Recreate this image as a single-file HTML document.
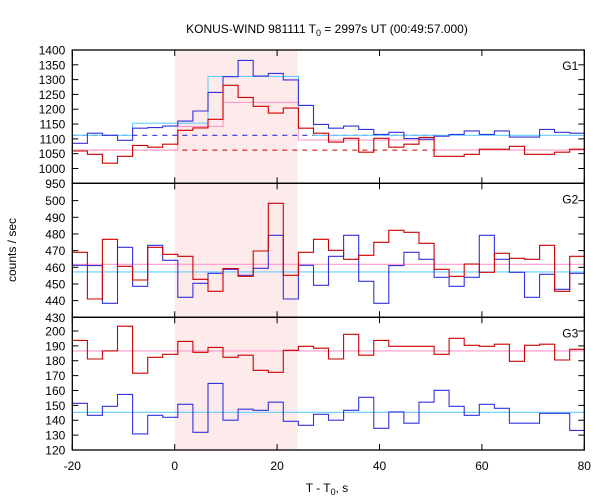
<!DOCTYPE html>
<html><head><meta charset="utf-8"><style>
body{margin:0;background:#fff;}
svg{display:block;font-family:"Liberation Sans","DejaVu Sans",sans-serif;}
</style></head><body>
<svg id="chart" width="600" height="500" viewBox="0 0 600 500" xmlns="http://www.w3.org/2000/svg"></svg>
<script>
const binStart = -20, binWidth = 2.944;
const xTicks = [-20, 0, 20, 40, 60, 80];
const shadeRange = [0, 24];
const g1Blue = [1085,1119,1112,1095,1136,1138,1143,1160,1194,1257,1310,1365,1312,1321,1299,1213,1149,1136,1143,1132,1115,1122,1101,1099,1109,1115,1127,1115,1127,1106,1106,1132,1122,1119];
const g1Red = [1059,1048,1018,1041,1078,1072,1082,1129,1137,1166,1281,1240,1210,1187,1204,1136,1119,1089,1102,1055,1102,1072,1082,1105,1041,1041,1048,1065,1065,1075,1048,1048,1055,1065];
const g1BlueModel = [1112,1112,1112,1112,1153,1153,1153,1153,1153,1311,1311,1311,1311,1311,1311,1213,1112,1112,1112,1112,1112,1112,1112,1112,1112,1112,1112,1112,1112,1112,1112,1112,1112,1112];
const g1RedModel = [1062,1062,1062,1062,1062,1062,1062,1142,1142,1142,1223,1223,1223,1223,1223,1096,1096,1096,1096,1096,1096,1096,1096,1096,1062,1062,1062,1062,1062,1062,1062,1062,1062,1062];
const g1BlueBg = 1112, g1RedBg = 1062, g1BgEnd = 50.9;
const g2Red = [469,441,476.8,460.6,452.4,472,467.8,466.6,452.8,445.6,459.2,454.6,469.8,498.4,455.2,469,476.8,470.2,464.8,467.2,475,482.2,481,474.4,458.8,454.6,462,457,468.4,465.4,464.8,473.2,445.6,466.6];
const g2Blue = [461.2,461,438.4,472,448.6,473.2,464.2,442,450.4,456.4,458.8,455.2,459.4,479.2,441,461.2,449.2,466.6,479.2,451.6,438.4,461,469,464.8,454,448.6,454,479.2,464.8,457,442,455.8,446.8,456.4];
const g2RedBg = 461.8, g2BlueBg = 457.2;
const g3Red = [193.7,181.2,186.6,203.2,171.6,182.3,184.3,193,185.7,189,182.3,183.7,173.6,172.2,187,189.7,188.4,181.2,197.8,183.7,193.7,189.7,189.7,189.7,184.3,195.1,190.4,189.7,191.1,179.6,190.4,191.1,180.5,187.7];
const g3Blue = [151.4,143.3,149.4,157.4,130.8,143.3,142,150.7,131.9,164.8,140,147.4,146.7,152.1,139.3,136.6,144,140,146.7,155.4,134.6,145.6,138,152.1,160.1,149.4,143.3,150.7,148,138,138,144.7,144.7,133.2];
const g3RedBg = 186.6, g3BlueBg = 145.3;
const g1Ticks = [950,1000,1050,1100,1150,1200,1250,1300,1350,1400];
const g2Ticks = [430,440,450,460,470,480,490,500];
const g3Ticks = [120,130,140,150,160,170,180,190,200];

const NS = "http://www.w3.org/2000/svg";
const svg = document.getElementById('chart');
const L = 72.3, R = 584.3;
const X = t => L + (t + 20) * (R - L) / 100;
function el(tag, attrs, parent){const e=document.createElementNS(NS,tag);for(const k in attrs)e.setAttribute(k,attrs[k]);(parent||svg).appendChild(e);return e;}
function txt(s, attrs){const e=el('text',attrs);e.textContent=s;return e;}

const panels = [
 {name:'g1', top:50, bottom:183.3, vTop:1400, vBot:950, ticks:g1Ticks, label:'G1',
  series:[{d:g1BlueModel,c:'#66ccff',n:'g1-blue-model'},{d:g1RedModel,c:'#ff99cc',n:'g1-red-model'},{d:g1Blue,c:'#3333dd',n:'g1-blue-counts'},{d:g1Red,c:'#cc0000',n:'g1-red-counts'}],
  bg:[{v:g1BlueBg,c:'#3333dd',n:'g1-blue-background'},{v:g1RedBg,c:'#cc0000',n:'g1-red-background'}]},
 {name:'g2', top:183.3, bottom:317.3, vTop:510.4, vBot:430, ticks:g2Ticks, label:'G2',
  series:[{d:g2Blue,c:'#3333dd',n:'g2-blue-counts'},{d:g2Red,c:'#cc0000',n:'g2-red-counts'}],
  lines:[{v:g2RedBg,c:'#ff99cc',n:'g2-red-background'},{v:g2BlueBg,c:'#66ccff',n:'g2-blue-background'}]},
 {name:'g3', top:317.3, bottom:450, vTop:209.2, vBot:120, ticks:g3Ticks, label:'G3',
  series:[{d:g3Red,c:'#cc0000',n:'g3-red-counts'},{d:g3Blue,c:'#3333dd',n:'g3-blue-counts'}],
  lines:[{v:g3RedBg,c:'#ff99cc',n:'g3-red-background'},{v:g3BlueBg,c:'#66ccff',n:'g3-blue-background'}]}
];

const sh = el('rect',{x:X(shadeRange[0]),y:50,width:X(shadeRange[1])-X(shadeRange[0]),height:400,fill:'#fdeaea'});



panels.forEach(p=>{
  const Y = v => p.bottom - (v - p.vBot) * (p.bottom - p.top) / (p.vTop - p.vBot);
  const clip = el('clipPath',{id:'clip-'+p.name});
  el('rect',{x:L,y:p.top,width:R-L,height:p.bottom-p.top},clip);
  const g = el('g',{'clip-path':'url(#clip-'+p.name+')'});
  
  
  function step(d){let s='';d.forEach((v,i)=>{const x0=X(binStart+i*binWidth),x1=X(binStart+(i+1)*binWidth),y=Y(v);s+=(i===0?'M':'L')+x0.toFixed(1)+','+y.toFixed(1)+'L'+x1.toFixed(1)+','+y.toFixed(1);});return s;}
  (p.lines||[]).forEach(l=>{
    const e=el('line',{x1:L,x2:R,y1:Y(l.v),y2:Y(l.v),stroke:l.c,'stroke-width':1.1},g);
    
    
  });
  (p.bg||[]).forEach(l=>{
    const e=el('line',{x1:L,x2:X(g1BgEnd),y1:Y(l.v),y2:Y(l.v),stroke:l.c,'stroke-width':1.1,'stroke-dasharray':'5,5'},g);
    
    
  });
  p.series.forEach(s=>{
    const e=el('path',{d:step(s.d),fill:'none',stroke:s.c,'stroke-width':1.1},g);
    
    
  });
  const fr=el('rect',{x:L,y:p.top,width:R-L,height:p.bottom-p.top,fill:'none',stroke:'#000','stroke-width':1.3});
  
  
  p.ticks.forEach(v=>{
    const y=Y(v);
    el('line',{x1:L,x2:L+6,y1:y,y2:y,stroke:'#000','stroke-width':1});
    el('line',{x1:R-6,x2:R,y1:y,y2:y,stroke:'#000','stroke-width':1});
    const t=txt(String(v),{x:L-7,y:y+4.5,'text-anchor':'end','font-size':12,fill:'#000'});
    
    
  });
  xTicks.forEach(tv=>{
    const x=X(tv);
    el('line',{x1:x,x2:x,y1:p.top,y2:p.top+6,stroke:'#000','stroke-width':1});
    el('line',{x1:x,x2:x,y1:p.bottom-6,y2:p.bottom,stroke:'#000','stroke-width':1});
  });
  const lb=txt(p.label,{x:R-6,y:p.top+20,'text-anchor':'end','font-size':12,fill:'#000'});
  
  
});

xTicks.forEach(tv=>{
  const t=txt(String(tv),{x:X(tv),y:470,'text-anchor':'middle','font-size':12,fill:'#000'});
  
  
});
</script>
<svg style="position:absolute;left:0;top:0" width="600" height="500">
<text x="327" y="33" text-anchor="middle" font-size="12" font-family="Liberation Sans, sans-serif">KONUS-WIND 981111 T<tspan font-size="9" dy="3">0</tspan><tspan dy="-3"> = 2997s UT (00:49:57.000)</tspan></text>
<text x="16" y="250" text-anchor="middle" font-size="12" font-family="Liberation Sans, sans-serif" transform="rotate(-90 16 250)">counts / sec</text>
<text x="327" y="492" text-anchor="middle" font-size="12" font-family="Liberation Sans, sans-serif">T - T<tspan font-size="9" dy="3">0</tspan><tspan dy="-3">, s</tspan></text>
</svg>
</body></html>
